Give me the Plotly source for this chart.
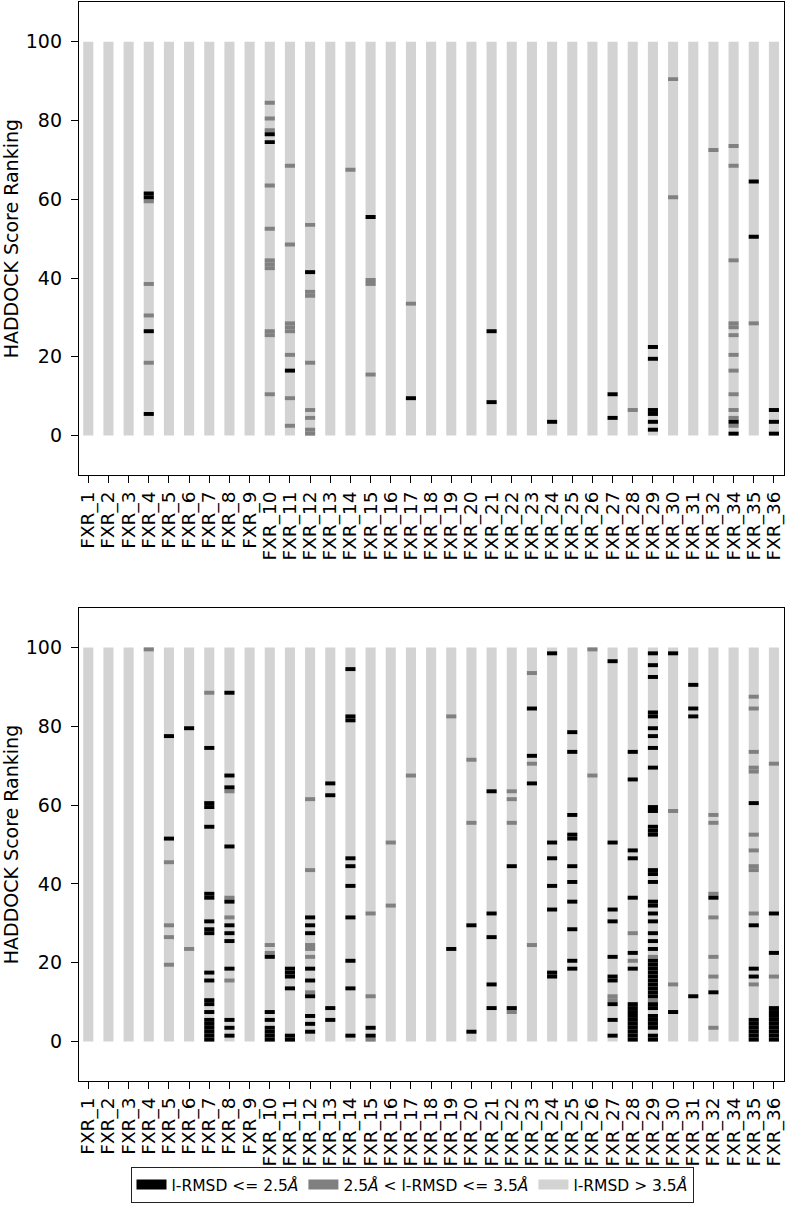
import plotly.graph_objects as go
from plotly.subplots import make_subplots

categories = ["FXR_1", "FXR_2", "FXR_3", "FXR_4", "FXR_5", "FXR_6", "FXR_7", "FXR_8",
              "FXR_9", "FXR_10", "FXR_11", "FXR_12", "FXR_13", "FXR_14", "FXR_15",
              "FXR_16", "FXR_17", "FXR_18", "FXR_19", "FXR_20", "FXR_21", "FXR_22",
              "FXR_23", "FXR_24", "FXR_25", "FXR_26", "FXR_27", "FXR_28", "FXR_29",
              "FXR_30", "FXR_31", "FXR_32", "FXR_34", "FXR_35", "FXR_36"]

n_models = 100
y_ticks = [0, 20, 40, 60, 80, 100]

# ranks (1 = best) with l-RMSD <= 2.5 A, per category -- top panel
top_black = [
    [], [], [], [6, 27, 61, 62], [], [], [], [], [],
    [75, 77], [17], [42], [], [], [56], [], [10], [], [], [],
    [9, 27], [], [], [4], [], [], [5, 11], [], [2, 4, 6, 7, 20, 23],
    [], [], [], [1, 4], [51, 65], [1, 4, 7],
]
# ranks with 2.5 A < l-RMSD <= 3.5 A -- top panel
top_gray = [
    [], [], [], [19, 31, 39, 60], [], [], [], [], [],
    [11, 26, 27, 43, 44, 45, 53, 64, 78, 81, 85], [3, 10, 21, 27, 28, 29, 49, 69],
    [1, 2, 5, 7, 19, 36, 37, 54], [], [68], [16, 39, 40], [], [34], [], [], [],
    [], [], [], [], [], [], [], [7], [],
    [61, 91], [], [73], [3, 5, 7, 11, 17, 21, 26, 28, 29, 45, 69, 74], [29], [],
]

# bottom panel
bottom_black = [
    [], [], [], [], [52, 78], [80],
    [1, 2, 3, 4, 5, 6, 8, 10, 11, 16, 18, 28, 29, 31, 37, 38, 55, 60, 61, 75],
    [2, 4, 6, 19, 26, 28, 30, 36, 50, 65, 68, 89], [],
    [1, 2, 3, 4, 6, 8, 22], [1, 2, 14, 17, 18, 19], [3, 5, 7, 12, 16, 19, 28, 30, 32],
    [6, 9, 63, 66], [2, 14, 21, 32, 40, 45, 47, 82, 83, 95], [2, 4], [], [], [],
    [24], [3, 30], [9, 15, 27, 33, 64], [9, 45], [66, 73, 85],
    [17, 18, 34, 40, 47, 51, 99], [19, 21, 29, 36, 41, 45, 52, 53, 58, 74, 79], [],
    [2, 6, 10, 16, 17, 22, 31, 34, 51, 97],
    [1, 2, 3, 4, 5, 6, 7, 8, 9, 10, 19, 23, 37, 47, 49, 67, 74],
    [1, 2, 4, 5, 6, 7, 9, 10, 12, 13, 14, 15, 16, 17, 18, 19, 20, 21, 24, 26, 28,
     31, 33, 35, 36, 41, 43, 44, 53, 54, 55, 59, 60, 70, 75, 78, 80, 83, 84, 93, 96, 99],
    [8, 99], [12, 83, 85, 91], [13, 37], [],
    [1, 2, 3, 4, 5, 6, 17, 19, 30, 61], [1, 2, 3, 4, 5, 6, 7, 8, 9, 23, 33],
]
bottom_gray = [
    [], [], [], [100], [20, 27, 30, 46], [24], [89], [16, 32, 37, 64], [],
    [23, 25], [], [13, 22, 24, 25, 44, 62], [], [], [1, 12, 33], [35, 51], [68], [],
    [83], [56, 72], [], [8, 56, 62, 64], [25, 71, 94], [], [], [68, 100],
    [11, 12], [21, 28], [11, 22],
    [15, 59], [], [4, 17, 22, 32, 38, 56, 58], [],
    [15, 33, 44, 45, 49, 53, 69, 70, 74, 85, 88], [17, 71],
]

legend_labels = ["l-RMSD <= 2.5<i>Å</i>", "2.5<i>Å</i> < l-RMSD <= 3.5<i>Å</i>",
                 "l-RMSD > 3.5<i>Å</i>"]
colors = ["#000000", "#808080", "#d3d3d3"]

FONT = "DejaVu Sans"
W, H = 786, 1207

fig = make_subplots(rows=2, cols=1)


def flatten(marks):
    xs, bases = [], []
    for cat, ranks in zip(categories, marks):
        for r in ranks:
            xs.append(cat)
            bases.append(r - 1)
    return xs, bases


panels = [(top_black, top_gray), (bottom_black, bottom_gray)]
for row, (blk, gry) in enumerate(panels, start=1):
    fig.add_trace(go.Bar(x=categories, y=[n_models] * len(categories),
                         base=[0] * len(categories), width=0.5,
                         marker=dict(color=colors[2], line=dict(width=0)),
                         showlegend=False, hoverinfo="skip"),
                  row=row, col=1)
    gx, gb = flatten(gry)
    fig.add_trace(go.Bar(x=gx, y=[1] * len(gx), base=gb, width=0.5,
                         marker=dict(color=colors[1], line=dict(width=0)),
                         showlegend=False),
                  row=row, col=1)
    bx, bb = flatten(blk)
    fig.add_trace(go.Bar(x=bx, y=[1] * len(bx), base=bb, width=0.5,
                         marker=dict(color=colors[0], line=dict(width=0)),
                         showlegend=False),
                  row=row, col=1)

# legend entries (patch-like swatches)
for lab, col in zip(legend_labels, colors):
    fig.add_trace(go.Scatter(x=[None], y=[None], mode="lines", name=lab,
                             line=dict(color=col, width=11), showlegend=True),
                  row=1, col=1)

panel_px = [(2.3, 475.0), (608.0, 1081.0)]
for i, (t, b) in enumerate(panel_px, start=1):
    yname = "yaxis" if i == 1 else "yaxis%d" % i
    xname = "xaxis" if i == 1 else "xaxis%d" % i
    fig.layout[yname].update(
        domain=[1 - b / H, 1 - t / H], range=[-10, 110],
        tickmode="array", tickvals=y_ticks, ticks="outside", ticklen=7, tickwidth=1.2,
        tickcolor="black", showline=True, linecolor="black", linewidth=1.3,
        mirror=True, showgrid=False, zeroline=False, ticklabelstandoff=5,
        title=dict(text="HADDOCK Score Ranking",
                   font=dict(size=19, family=FONT, color="black"), standoff=6),
        tickfont=dict(size=19, family=FONT, color="black"), automargin=False,
    )
    fig.layout[xname].update(
        range=[-0.46, 34.5], tickangle=-90, ticks="outside", ticklen=7, tickwidth=1.2,
        tickcolor="black", showline=True, linecolor="black", linewidth=1.3,
        mirror=True, showgrid=False, zeroline=False, ticklabelstandoff=1,
        tickmode="array", tickvals=categories, ticktext=categories,
        tickfont=dict(size=18.5, family=FONT, color="black"), automargin=False,
        categoryorder="array", categoryarray=categories,
    )

fig.update_layout(
    width=W, height=H, barmode="overlay",
    plot_bgcolor="white", paper_bgcolor="white",
    margin=dict(l=79, r=2, t=0, b=0, autoexpand=False),
    font=dict(family=FONT, size=16, color="black"),
    legend=dict(orientation="h", x=(412 - 79) / 705, xanchor="center",
                y=1 - 1203 / H, yanchor="bottom", bordercolor="#222222", borderwidth=1,
                font=dict(size=15.5, family=FONT, color="black"),
                traceorder="normal", itemwidth=30, bgcolor="white"),
)

fig.write_html(
    "out.html",
    config={"displayModeBar": False},
    post_script="document.body.style.margin='0px';document.body.style.overflow='hidden';",
)
